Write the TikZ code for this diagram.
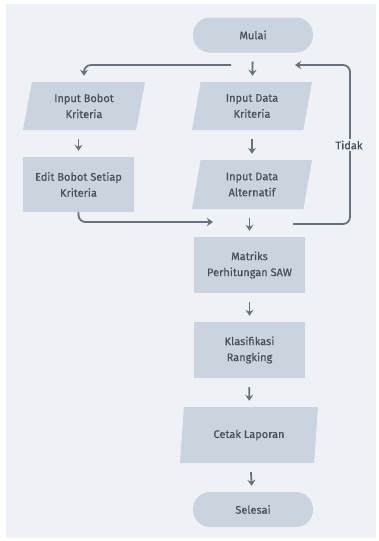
\documentclass[tikz,border=0pt]{standalone}
\usepackage{fontspec}
\setmainfont{Fira Sans}
\newfontfamily\boxfont[FakeBold=0.6]{Fira Sans}
\usetikzlibrary{shapes.geometric,arrows.meta}

\definecolor{panelbg}{HTML}{EEF2F6}
\definecolor{boxfill}{HTML}{CBD4DE}
\definecolor{linegrey}{HTML}{6A717C}
\definecolor{textgrey}{HTML}{48505C}

\begin{document}
\begin{tikzpicture}[
    x=1pt, y=-1pt,
    % Style for the grey process boxes
    process/.style={rectangle, fill=boxfill, text=textgrey, align=center,
        font=\boxfont\fontsize{11}{16}\selectfont, inner sep=0pt},
    % Style for the start / end capsules
    terminal/.style={process, rounded corners=17pt, minimum width=120pt, minimum height=35pt},
    % Style for the slanted input / output boxes
    io/.style={trapezium, trapezium left angle=70, trapezium right angle=110,
        trapezium stretches body, fill=boxfill, text=textgrey, align=center,
        font=\boxfont\fontsize{11}{16}\selectfont, inner sep=0pt},
    % Style for the connectors
    flow/.style={draw=linegrey, line width=1.8pt, rounded corners=7pt,
        -{Stealth[length=6pt,width=8pt]}},
    gap/.style={shorten <=9pt, shorten >=6pt}
]

    % --- 1. Background Panel ---
    \useasboundingbox (0,0) rectangle (378,541);
    \fill[panelbg] (6,4) rectangle (376,538);

    % --- 2. Place Nodes ---
    \node[terminal] (mulai) at (253,35) {Mulai};

    \node[io, minimum width=122pt, minimum height=48pt] (inbobot) at (84,106) {Input Bobot\\Kriteria};
    \node[io, minimum width=120pt, minimum height=48pt] (indata) at (252,106) {Input Data\\Kriteria};

    \node[process, minimum width=111pt, minimum height=55pt] (edit) at (78.5,184.5) {Edit Bobot Setiap\\Kriteria};
    \node[io, minimum width=120pt, minimum height=49pt] (inalt) at (252,184.5) {Input Data\\Alternatif};

    \node[process, minimum width=111pt, minimum height=56pt] (matriks) at (249.5,265) {Matriks\\Perhitungan SAW};
    \node[process, minimum width=111pt, minimum height=56pt] (klas) at (249.5,350) {Klasifikasi\\Rangking};

    \node[io, minimum width=138pt, minimum height=56pt] (cetak) at (249,435) {Cetak Laporan};
    \node[terminal] (selesai) at (253,509.5) {Selesai};

    % --- 3. Free Ends of the Branches ---
    \coordinate (split) at (231,65);
    \coordinate (join) at (213,222);
    \coordinate (loopstart) at (293,224);
    \coordinate (loopcorner) at (350,65);
    \coordinate (loopend) at (295,65);

    % --- 4. Straight Arrows ---
    \draw[flow, gap] (mulai) -- (indata);
    \draw[flow, gap] (inbobot.south -| edit.north) -- (edit.north);
    \draw[flow, gap] (indata) -- (inalt);
    \draw[flow, gap] (inalt.south -| matriks.north) -- (matriks.north);
    \draw[flow, gap] (matriks) -- (klas);
    \draw[flow, gap] (klas) -- (cetak);
    \draw[flow, gap] (cetak) -- (selesai);

    % --- 5. Branch and Loop ---
    \draw[flow, shorten >=6pt] (split) -| (inbobot.north);
    \draw[flow] (edit.south) |- (join);
    \draw[flow] (loopstart) -| (loopcorner) -- (loopend);
    \node[fill=panelbg, text=textgrey, font=\boxfont\fontsize{11}{12}\selectfont,
          inner sep=1.5pt] (tidak) at (349,145) {Tidak};

\end{tikzpicture}
\end{document}
